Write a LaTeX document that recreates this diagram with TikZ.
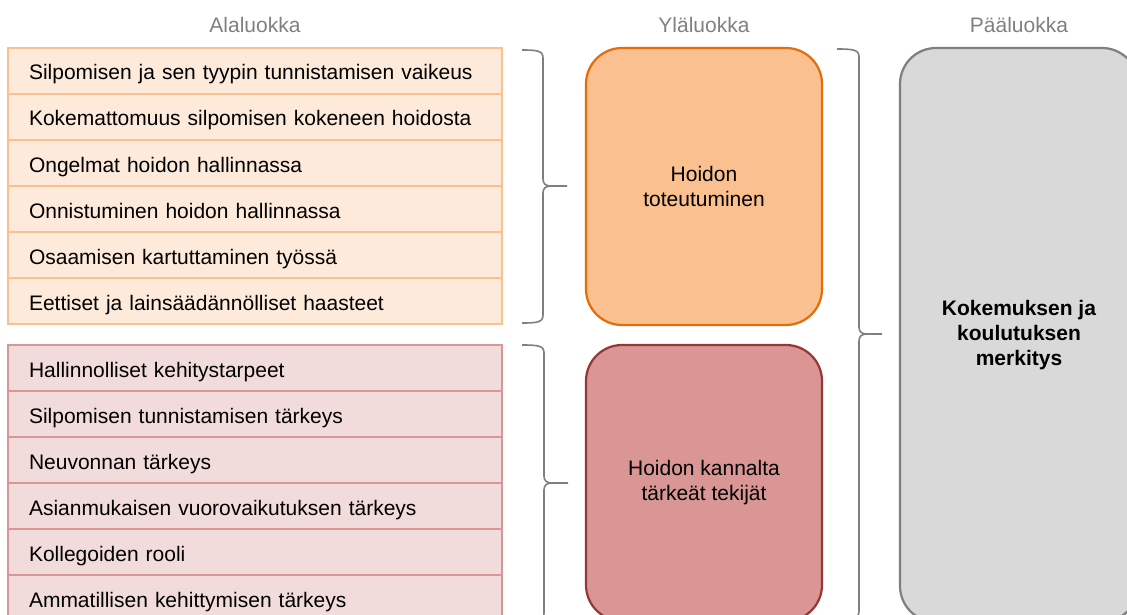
\documentclass[tikz,border=0pt]{standalone}
\usepackage{fontspec}
\setmainfont{Liberation Sans}
\usetikzlibrary{positioning}
\definecolor{otsikkoharmaa}{HTML}{808080}
\definecolor{alaoranssi}{HTML}{FDEADA}
\definecolor{alaoranssireuna}{HTML}{FAC090}
\definecolor{alapuna}{HTML}{F2DCDB}
\definecolor{alapunareuna}{HTML}{D99694}
\definecolor{ylaoranssi}{HTML}{FAC090}
\definecolor{ylaoranssireuna}{HTML}{E46C0A}
\definecolor{ylapuna}{HTML}{D99694}
\definecolor{ylapunareuna}{HTML}{953735}
\definecolor{paaharmaa}{HTML}{D9D9D9}
\definecolor{paaharmaareuna}{HTML}{7F7F7F}

\begin{document}
\begin{tikzpicture}[x=1pt,y=1pt,
  every node/.style={font=\fontsize{21}{25}\selectfont},
  otsikko/.style={text=otsikkoharmaa,anchor=base},
  rivi/.style={draw,line width=2pt,outer sep=0pt,minimum height=46pt,
    text width=452pt,inner xsep=21pt,inner ysep=0pt,align=left,
    text height=20pt,text depth=2pt},
  orivi/.style={rivi,fill=alaoranssi,draw=alaoranssireuna},
  privi/.style={rivi,fill=alapuna,draw=alapunareuna},
  luokka/.style={draw,line width=2.2pt,rounded corners=36pt,align=center,
    minimum width=236pt},
  sulku/.style={draw=paaharmaareuna,line width=1.6pt}]
			 \useasboundingbox (0,0) rectangle (1127,-615);
			 \clip (0,0) rectangle (1127,-615);
			 % otsikot
			 \node[otsikko] (ala) at (255,-33) {Alaluokka};
			 \node[otsikko] (yla) at (704,-33) {Yläluokka};
			 \node[otsikko] (paa) at (1019,-33) {Pääluokka};
			 % alaluokat
			 \node[orivi,anchor=north west] (a1) at (8,-48) {Silpomisen ja sen tyypin tunnistamisen vaikeus};
			 \node[orivi] (a2) [below=0pt of a1] {Kokemattomuus silpomisen kokeneen hoidosta};
			 \node[orivi] (a3) [below=0pt of a2] {Ongelmat hoidon hallinnassa};
			 \node[orivi] (a4) [below=0pt of a3] {Onnistuminen hoidon hallinnassa};
			 \node[orivi] (a5) [below=0pt of a4] {Osaamisen kartuttaminen työssä};
			 \node[orivi] (a6) [below=0pt of a5] {Eettiset ja lainsäädännölliset haasteet};
			 \node[privi,anchor=north west] (b1) at (8,-345) {Hallinnolliset kehitystarpeet};
			 \node[privi] (b2) [below=0pt of b1] {Silpomisen tunnistamisen tärkeys};
			 \node[privi] (b3) [below=0pt of b2] {Neuvonnan tärkeys};
			 \node[privi] (b4) [below=0pt of b3] {Asianmukaisen vuorovaikutuksen tärkeys};
			 \node[privi] (b5) [below=0pt of b4] {Kollegoiden rooli};
			 \node[privi] (b6) [below=0pt of b5] {Ammatillisen kehittymisen tärkeys};
			 % yläluokat ja pääluokka
			 \node[luokka,fill=ylaoranssi,draw=ylaoranssireuna,minimum height=277pt] (hoito) at (704,-186.5) {Hoidon\\toteutuminen};
			 \node[luokka,fill=ylapuna,draw=ylapunareuna,minimum height=276pt] (tekijat) at (704,-483) {Hoidon kannalta\\tärkeät tekijät};
			 \node[luokka,fill=paaharmaa,draw=paaharmaareuna,minimum width=238pt,minimum height=574pt,font=\fontsize{21}{25}\selectfont\bfseries] (merkitys) at (1019,-335) {Kokemuksen ja\\koulutuksen\\merkitys};
			 % sulkeet
			 \draw[sulku] (522,-50) .. controls (538,-50) and (543,-51) .. (543,-58) -- (543,-179)
			   .. controls (543,-184) and (546,-186) .. (551,-186) -- (567,-186)
			   (551,-186) .. controls (546,-186) and (543,-188) .. (543,-193) -- (543,-315)
			   .. controls (543,-322) and (538,-323) .. (522,-323);
			 \draw[sulku] (522,-345) .. controls (539,-345) and (544,-346) .. (544,-353) -- (544,-476)
			   .. controls (544,-481) and (547,-483) .. (552,-483) -- (568,-483)
			   (552,-483) .. controls (547,-483) and (544,-485) .. (544,-490) -- (544,-613)
			   .. controls (544,-620) and (539,-621) .. (522,-621);
			 \draw[sulku] (837,-49) .. controls (854,-49) and (859,-50) .. (859,-57) -- (859,-327)
			   .. controls (859,-332) and (862,-334) .. (867,-334) -- (882,-334)
			   (867,-334) .. controls (862,-334) and (859,-336) .. (859,-341) -- (859,-611)
			   .. controls (859,-618) and (854,-619) .. (837,-619);
			\end{tikzpicture}
\end{document}
